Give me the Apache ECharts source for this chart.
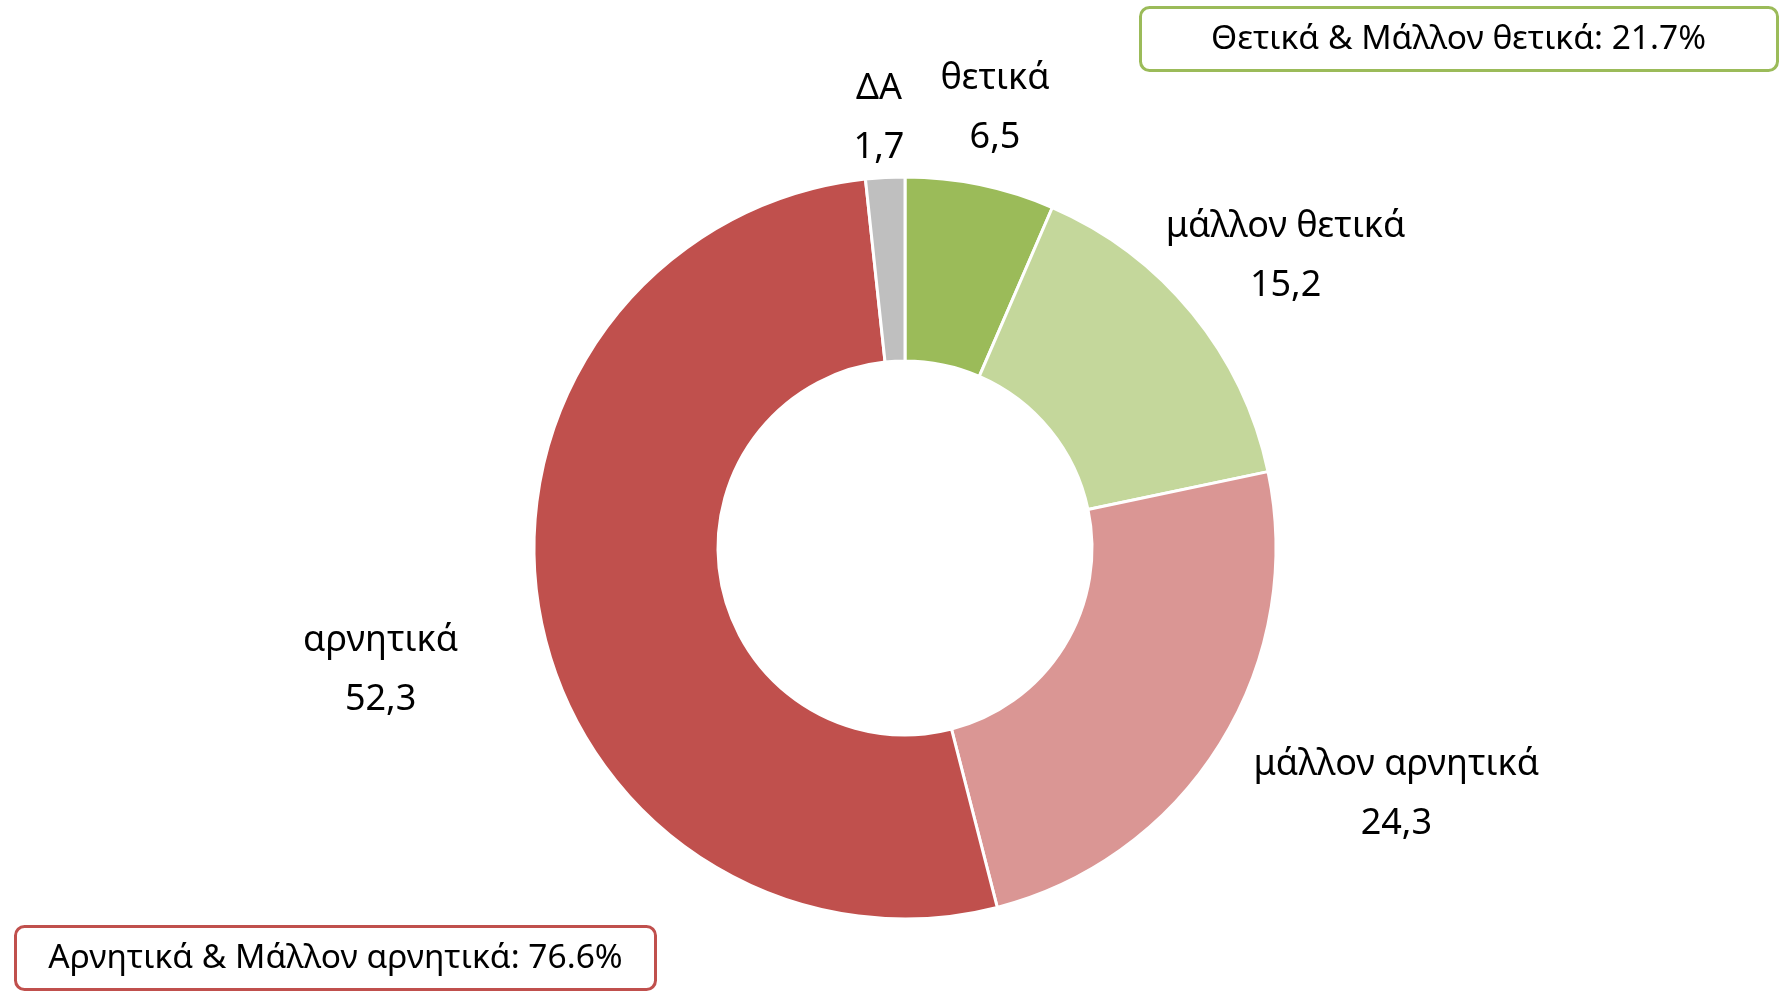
<!DOCTYPE html>
<html>
<head>
<meta charset="utf-8">
<script src="https://cdn.jsdelivr.net/npm/echarts@6/dist/echarts.min.js"></script>
<style>
  html, body { margin: 0; padding: 0; background: #fff; }
  #main { width: 1781px; height: 994px; }
</style>
</head>
<body>
<div id="main"></div>
<script>
// κατηγορίες και τιμές (%), δεξιόστροφα από πάνω
var categories = ['θετικά', 'μάλλον θετικά', 'μάλλον αρνητικά', 'αρνητικά', 'ΔΑ'];
var values = [6.5, 15.2, 24.3, 52.3, 1.7];
var positiveIdx = [0, 1];
var negativeIdx = [2, 3];

var colors = ['#9BBB59', '#C4D79B', '#DA9694', '#C0504D', '#BFBFBF'];
// label placement tweaks: radial gap past the ring, and shift along the ring (clockwise +)
var labelGap = [9, -22, 24, 80, -1];
var labelShift = [-1, 15, -50, -27, -3];

function sumOf(idx) {
  var s = 0;
  idx.forEach(function (i) { s += values[i]; });
  return s.toFixed(1);
}

var chart = echarts.init(document.getElementById('main'));
var font = '"Noto Sans", "Open Sans", sans-serif';

var option = {
  animation: false,
  backgroundColor: '#fff',
  color: colors,
  series: [{
    type: 'pie',
    center: [905, 548],
    radius: [187, 371],
    startAngle: 90,
    clockwise: true,
    avoidLabelOverlap: false,
    itemStyle: {
      borderColor: '#fff',
      borderWidth: 3
    },
    label: {
      show: true,
      position: 'outside',
      fontFamily: font,
      fontSize: 36,
      lineHeight: 59,
      color: '#000',
      formatter: function (p) {
        return p.name + '\n' + p.value.toFixed(1).replace('.', ',');
      }
    },
    labelLine: {
      show: true,
      length: 10,
      length2: 0,
      lineStyle: { opacity: 0 }
    },
    labelLayout: function (params) {
      var pts = params.labelLinePoints;
      if (!pts) return {};
      var ux = pts[1][0] - pts[0][0], uy = pts[1][1] - pts[0][1];
      var len = Math.sqrt(ux * ux + uy * uy) || 1;
      ux /= len; uy /= len;
      var i = params.dataIndex;
      var w = params.labelRect.width / 2, h = params.labelRect.height / 2;
      var d = Math.abs(ux) * w + Math.abs(uy) * h + labelGap[i];
      return {
        x: pts[0][0] + ux * d - uy * labelShift[i],
        y: pts[0][1] + uy * d + ux * labelShift[i],
        align: 'center',
        verticalAlign: 'middle'
      };
    },
    data: categories.map(function (c, i) {
      return { name: c, value: values[i] };
    })
  }],
  graphic: [
    {
      type: 'group',
      left: 1139,
      top: 6,
      children: [
        {
          type: 'rect',
          shape: { x: 0, y: 0, width: 637, height: 63, r: 9 },
          style: { fill: '#fff', stroke: '#9BBB59', lineWidth: 3 }
        },
        {
          type: 'text',
          x: 318, y: 32,
          style: {
            text: 'Θετικά & Μάλλον θετικά: ' + sumOf(positiveIdx) + '%',
            font: '33.5px ' + font,
            fill: '#000',
            align: 'center',
            verticalAlign: 'middle'
          }
        }
      ]
    },
    {
      type: 'group',
      left: 14,
      top: 925,
      children: [
        {
          type: 'rect',
          shape: { x: 0, y: 0, width: 640, height: 63, r: 9 },
          style: { fill: '#fff', stroke: '#C0504D', lineWidth: 3 }
        },
        {
          type: 'text',
          x: 320, y: 32,
          style: {
            text: 'Αρνητικά & Μάλλον αρνητικά: ' + sumOf(negativeIdx) + '%',
            font: '33.5px ' + font,
            fill: '#000',
            align: 'center',
            verticalAlign: 'middle'
          }
        }
      ]
    }
  ]
};

chart.setOption(option);
</script>
</body>
</html>
